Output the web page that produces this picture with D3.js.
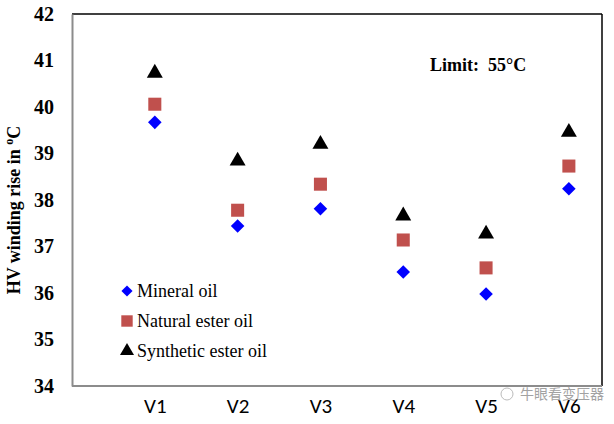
<!DOCTYPE html>
<html><head><meta charset="utf-8">
<script src="https://cdn.jsdelivr.net/npm/d3@7"></script>
<style>body{margin:0;background:#fff;}svg{display:block;}</style>
</head><body>
<svg id="c" width="614" height="424"></svg>
<script>
const categories = ["V1","V2","V3","V4","V5","V6"];
const mineral = [39.67, 37.44, 37.81, 36.45, 35.98, 38.24];
const natural = [40.06, 37.78, 38.34, 37.14, 36.54, 38.73];
const synthetic = [40.73, 38.84, 39.20, 37.66, 37.27, 39.46];
const seriesNames = ["Mineral oil","Natural ester oil","Synthetic ester oil"];
const yTicks = [34,35,36,37,38,39,40,41,42];

const SERIF = "'Liberation Serif', 'Times New Roman', serif";
const svg = d3.select("#c");
const L = 72, R = 602, T = 14, B = 386;
const x = d3.scaleLinear().domain([0, 6.4]).range([L, R]);
const y = d3.scaleLinear().domain([34, 42]).range([B, T]);

// frame
svg.append("line").attr("x1",L).attr("x2",R).attr("y1",T).attr("y2",T).attr("stroke","#000").attr("stroke-width",1.5);
svg.append("line").attr("x1",R).attr("x2",R).attr("y1",T).attr("y2",B).attr("stroke","#000").attr("stroke-width",1.5);

const yAxis = d3.axisLeft(y).tickValues(yTicks).tickSize(0).tickPadding(18).tickFormat(d3.format("d"));
const gy = svg.append("g").attr("transform",`translate(${L},0)`).call(yAxis);
gy.select(".domain").attr("stroke","#8c8c8c").attr("stroke-width",2);
gy.selectAll("text").attr("font-family",SERIF).attr("font-weight","bold").attr("font-size",20).attr("fill","#000");

const xAxis = d3.axisBottom(x).tickValues([1,2,3,4,5,6]).tickSize(0).tickPadding(12).tickFormat((d,i)=>categories[i]);
const gx = svg.append("g").attr("transform",`translate(0,${B})`).call(xAxis);
gx.select(".domain").attr("stroke","#8c8c8c").attr("stroke-width",2).attr("d",`M${L},0H${R}`);
gx.selectAll("text").attr("font-family","Carlito, Calibri, 'Liberation Sans', sans-serif").attr("font-size",21).attr("fill","#000");

// y title
const yt = svg.append("text").attr("transform","translate(20,210) rotate(-90)")
  .attr("text-anchor","middle").attr("font-family",SERIF)
  .attr("font-weight","bold").attr("font-size",18);
yt.append("tspan").text("HV winding rise in ");
yt.append("tspan").attr("font-size",12).attr("dy",-7).text("o");
yt.append("tspan").attr("dy",7).text("C");

const diamond = d3.symbol().type(d3.symbolSquare).size(92)();
const sym = [
  {data: mineral, d: diamond, rot: 45, color:"#0000ff"},
  {data: natural, d: d3.symbol().type(d3.symbolSquare).size(170)(), rot: 0, color:"#c0504d"},
  {data: synthetic, d: d3.symbol().type(d3.symbolTriangle).size(110)(), rot: 0, color:"#000"}
];
sym.forEach(s=>{
  svg.append("g").selectAll("path").data(s.data).enter().append("path")
    .attr("transform",(d,i)=>`translate(${x(i+1)},${y(d)}) rotate(${s.rot})`)
    .attr("d", s.d)
    .attr("fill", s.color);
});

// legend
const lg = svg.append("g");
const legSyms = [
  d3.symbol().type(d3.symbolSquare).size(62)(),
  d3.symbol().type(d3.symbolSquare).size(130)(),
  d3.symbol().type(d3.symbolTriangle).size(85)()
];
seriesNames.forEach((n,i)=>{
  const yy = 291 + i*30;
  lg.append("path").attr("transform",`translate(127,${yy}) rotate(${sym[i].rot})`)
    .attr("d", legSyms[i]).attr("fill",sym[i].color);
  lg.append("text").attr("x",137).attr("y",yy+6).text(n)
    .attr("font-family",SERIF).attr("font-size",18);
});

svg.append("text").attr("x",430).attr("y",71).text("Limit:  55°C")
  .attr("font-family",SERIF).attr("font-weight","bold").attr("font-size",18)
  .style("white-space","pre");

// watermark
svg.append("text").attr("x",520).attr("y",399).text("牛眼看变压器")
  .attr("font-family","'Noto Sans CJK SC', sans-serif").attr("font-size",14).attr("fill","#999").attr("opacity",0.9);
svg.append("circle").attr("cx",507).attr("cy",394).attr("r",6).attr("fill","none").attr("stroke","#bbb");
</script>
</body></html>
